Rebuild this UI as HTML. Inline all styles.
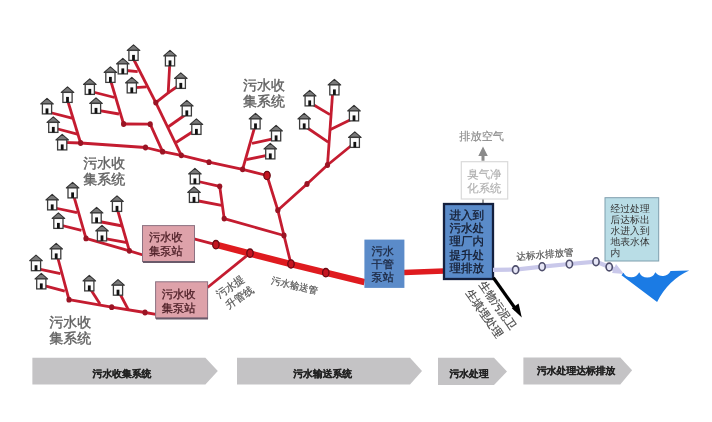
<!DOCTYPE html>
<html><head><meta charset="utf-8"><style>
html,body{margin:0;padding:0;background:#fff;width:712px;height:422px;overflow:hidden}
svg{display:block;filter:blur(0.35px)}
text{font-family:"Liberation Sans",sans-serif;text-rendering:geometricPrecision}
</style></head><body>
<svg width="712" height="422" viewBox="0 0 712 422">
<defs><g id="h"><polygon points="0,1.3 -6.3,6.9 6.3,6.9" fill="#7a7a7a" stroke="#333" stroke-width="1.1" stroke-linejoin="round"/><rect x="-4.6" y="6.9" width="9.2" height="10" fill="#fcfcfc" stroke="#3c3c3c" stroke-width="1.3"/><rect x="-1.4" y="11.4" width="2.8" height="5.5" fill="#111"/></g></defs>
<polyline points="62,142.4 80.6,143 145.5,147.5 162.6,151.7 181.3,155.3 209,162.2 242.6,169.3 267,175.5" fill="none" stroke="#c41c30" stroke-width="2.8" stroke-linejoin="round"/>
<polyline points="80.6,143 67.5,100" fill="none" stroke="#c41c30" stroke-width="2.8" stroke-linejoin="round"/>
<polyline points="50,112.5 72.9,118.4" fill="none" stroke="#c41c30" stroke-width="2.8" stroke-linejoin="round"/>
<polyline points="56,128.5 78.2,134.4" fill="none" stroke="#c41c30" stroke-width="2.8" stroke-linejoin="round"/>
<polyline points="123.6,124 150.2,124.2 162.6,151.7" fill="none" stroke="#c41c30" stroke-width="2.8" stroke-linejoin="round"/>
<polyline points="123.6,124 110.5,80" fill="none" stroke="#c41c30" stroke-width="2.8" stroke-linejoin="round"/>
<polyline points="98,110.4 119,114" fill="none" stroke="#c41c30" stroke-width="2.8" stroke-linejoin="round"/>
<polyline points="93,92 114.6,97.5" fill="none" stroke="#c41c30" stroke-width="2.8" stroke-linejoin="round"/>
<polyline points="155.8,102.6 133.5,59" fill="none" stroke="#c41c30" stroke-width="2.8" stroke-linejoin="round"/>
<polyline points="126,70.5 137.7,71.7" fill="none" stroke="#c41c30" stroke-width="2.8" stroke-linejoin="round"/>
<polyline points="135,87.7 146.6,86.8" fill="none" stroke="#c41c30" stroke-width="2.8" stroke-linejoin="round"/>
<polyline points="155.8,102.6 168.2,92.9 169.8,63" fill="none" stroke="#c41c30" stroke-width="2.8" stroke-linejoin="round"/>
<polyline points="168.2,92.9 178,86" fill="none" stroke="#c41c30" stroke-width="2.8" stroke-linejoin="round"/>
<polyline points="155.8,102.6 181.3,155.3" fill="none" stroke="#c41c30" stroke-width="2.8" stroke-linejoin="round"/>
<polyline points="185,115 168,127" fill="none" stroke="#c41c30" stroke-width="2.8" stroke-linejoin="round"/>
<polyline points="193,131.5 176,142.5" fill="none" stroke="#c41c30" stroke-width="2.8" stroke-linejoin="round"/>
<polyline points="196,181 219.7,186.3 224.2,218.6 284,235.5 291,264" fill="none" stroke="#c41c30" stroke-width="2.8" stroke-linejoin="round"/>
<polyline points="196,200.5 221.5,205.3" fill="none" stroke="#c41c30" stroke-width="2.8" stroke-linejoin="round"/>
<polyline points="267,175.5 277.8,210.2 284,235.5" fill="none" stroke="#c41c30" stroke-width="2.8" stroke-linejoin="round"/>
<polyline points="277.8,210.2 307,184 327.5,165 352,145" fill="none" stroke="#c41c30" stroke-width="2.8" stroke-linejoin="round"/>
<polyline points="327.5,165 332.6,93" fill="none" stroke="#c41c30" stroke-width="2.8" stroke-linejoin="round"/>
<polyline points="313,104.5 330,114.6" fill="none" stroke="#c41c30" stroke-width="2.8" stroke-linejoin="round"/>
<polyline points="351,119.5 330,129.7" fill="none" stroke="#c41c30" stroke-width="2.8" stroke-linejoin="round"/>
<polyline points="306,127 328.2,142.2" fill="none" stroke="#c41c30" stroke-width="2.8" stroke-linejoin="round"/>
<polyline points="242.6,169.3 255,126" fill="none" stroke="#c41c30" stroke-width="2.8" stroke-linejoin="round"/>
<polyline points="273,138.8 252,143.4" fill="none" stroke="#c41c30" stroke-width="2.8" stroke-linejoin="round"/>
<polyline points="267,155.3 246.3,159.7" fill="none" stroke="#c41c30" stroke-width="2.8" stroke-linejoin="round"/>
<polyline points="73.5,195 86,238.4 129.4,250.8 143,255" fill="none" stroke="#c41c30" stroke-width="2.8" stroke-linejoin="round"/>
<polyline points="55,208 77,212.6" fill="none" stroke="#c41c30" stroke-width="2.8" stroke-linejoin="round"/>
<polyline points="60,225 81.5,230.4" fill="none" stroke="#c41c30" stroke-width="2.8" stroke-linejoin="round"/>
<polyline points="117,208 129.4,250.8" fill="none" stroke="#c41c30" stroke-width="2.8" stroke-linejoin="round"/>
<polyline points="99,221.5 122.5,226" fill="none" stroke="#c41c30" stroke-width="2.8" stroke-linejoin="round"/>
<polyline points="105,238.6 127,242.7" fill="none" stroke="#c41c30" stroke-width="2.8" stroke-linejoin="round"/>
<polyline points="194,238.8 215.9,244.7" fill="none" stroke="#c41c30" stroke-width="2.8" stroke-linejoin="round"/>
<polyline points="57.3,256 69,299.7 111.7,307.2 145,312.5 156,314.4" fill="none" stroke="#c41c30" stroke-width="2.8" stroke-linejoin="round"/>
<polyline points="38,268.8 60.5,273.7" fill="none" stroke="#c41c30" stroke-width="2.8" stroke-linejoin="round"/>
<polyline points="45,285.8 64.8,291.2" fill="none" stroke="#c41c30" stroke-width="2.8" stroke-linejoin="round"/>
<polyline points="90.4,289 100,304" fill="none" stroke="#c41c30" stroke-width="2.8" stroke-linejoin="round"/>
<polyline points="119,292 128.7,310.4" fill="none" stroke="#c41c30" stroke-width="2.8" stroke-linejoin="round"/>
<polyline points="207.5,287.5 250,253.2" fill="none" stroke="#c41c30" stroke-width="2.8" stroke-linejoin="round"/>
<polyline points="215.9,244.7 291,264.2 364.5,282.2" fill="none" stroke="#df1b1f" stroke-width="6.5"/>
<polyline points="404,272.4 444,271" fill="none" stroke="#df1b1f" stroke-width="5.5"/>
<ellipse cx="80.6" cy="143" rx="2.6" ry="2.9" fill="#9a1424"/>
<ellipse cx="145.5" cy="147.5" rx="2.6" ry="2.9" fill="#9a1424"/>
<ellipse cx="162.6" cy="151.7" rx="2.6" ry="2.9" fill="#9a1424"/>
<ellipse cx="181.3" cy="155.3" rx="2.6" ry="2.9" fill="#9a1424"/>
<ellipse cx="209" cy="162.2" rx="2.6" ry="2.9" fill="#9a1424"/>
<ellipse cx="242.6" cy="169.3" rx="2.6" ry="2.9" fill="#9a1424"/>
<ellipse cx="123.6" cy="124" rx="2.6" ry="2.9" fill="#9a1424"/>
<ellipse cx="150.2" cy="124.2" rx="2.6" ry="2.9" fill="#9a1424"/>
<ellipse cx="155.8" cy="102.6" rx="2.6" ry="2.9" fill="#9a1424"/>
<ellipse cx="219.7" cy="186.3" rx="2.6" ry="2.9" fill="#9a1424"/>
<ellipse cx="224.2" cy="218.6" rx="2.6" ry="2.9" fill="#9a1424"/>
<ellipse cx="284" cy="235.5" rx="2.6" ry="2.9" fill="#9a1424"/>
<ellipse cx="277.8" cy="210.2" rx="2.6" ry="2.9" fill="#9a1424"/>
<ellipse cx="307" cy="184" rx="2.6" ry="2.9" fill="#9a1424"/>
<ellipse cx="327.5" cy="165" rx="2.6" ry="2.9" fill="#9a1424"/>
<ellipse cx="86" cy="238.4" rx="2.6" ry="2.9" fill="#9a1424"/>
<ellipse cx="129.4" cy="250.8" rx="2.6" ry="2.9" fill="#9a1424"/>
<ellipse cx="69" cy="299.7" rx="2.6" ry="2.9" fill="#9a1424"/>
<ellipse cx="111.7" cy="307.2" rx="2.6" ry="2.9" fill="#9a1424"/>
<ellipse cx="145" cy="312.5" rx="2.6" ry="2.9" fill="#9a1424"/>
<ellipse cx="215.9" cy="244.7" rx="3.2" ry="4.2" fill="#c41420" stroke="#6a0a14" stroke-width="1.3"/>
<ellipse cx="250" cy="253.2" rx="3.2" ry="4.2" fill="#c41420" stroke="#6a0a14" stroke-width="1.3"/>
<ellipse cx="291" cy="264" rx="3.2" ry="4.2" fill="#c41420" stroke="#6a0a14" stroke-width="1.3"/>
<ellipse cx="325.8" cy="272.7" rx="3.2" ry="4.2" fill="#c41420" stroke="#6a0a14" stroke-width="1.3"/>
<ellipse cx="267" cy="175.5" rx="3.2" ry="4.2" fill="#c41420" stroke="#6a0a14" stroke-width="1.3"/>
<use href="#h" x="47" y="97"/>
<use href="#h" x="67.5" y="85.5"/>
<use href="#h" x="53.3" y="115.5"/>
<use href="#h" x="62.2" y="133"/>
<use href="#h" x="96" y="96.5"/>
<use href="#h" x="89.8" y="77.5"/>
<use href="#h" x="110.4" y="65.5"/>
<use href="#h" x="122.8" y="57"/>
<use href="#h" x="133.5" y="43.5"/>
<use href="#h" x="131.8" y="76"/>
<use href="#h" x="170" y="49"/>
<use href="#h" x="180.8" y="71.5"/>
<use href="#h" x="186.8" y="99"/>
<use href="#h" x="196.4" y="117.5"/>
<use href="#h" x="194.9" y="167"/>
<use href="#h" x="194" y="185.5"/>
<use href="#h" x="255.5" y="112"/>
<use href="#h" x="276.1" y="124"/>
<use href="#h" x="270.3" y="142"/>
<use href="#h" x="334.4" y="78"/>
<use href="#h" x="309.7" y="89"/>
<use href="#h" x="304.2" y="112"/>
<use href="#h" x="354" y="104"/>
<use href="#h" x="354.8" y="130.5"/>
<use href="#h" x="72.6" y="181"/>
<use href="#h" x="52.2" y="193"/>
<use href="#h" x="58.4" y="211.5"/>
<use href="#h" x="96.6" y="206"/>
<use href="#h" x="117" y="194.5"/>
<use href="#h" x="102" y="224"/>
<use href="#h" x="56.2" y="242"/>
<use href="#h" x="36" y="253.8"/>
<use href="#h" x="41.3" y="272"/>
<use href="#h" x="89.3" y="274"/>
<use href="#h" x="118" y="278.3"/>
<!-- labels -->
<g fill="#606060" stroke="#606060" stroke-width="0.35" font-size="14">
<text x="83.2" y="168">污水收</text><text x="83.2" y="183.8">集系统</text>
<text x="243" y="90.4">污水收</text><text x="243" y="106.4">集系统</text>
<text x="49.2" y="326.6">污水收</text><text x="49.2" y="342.6">集系统</text>
</g>
<!-- pink boxes -->
<g>
<rect x="142.5" y="225.6" width="52" height="36" fill="#dea2aa" stroke="#8c7282" stroke-width="1"/>
<line x1="143" y1="262" x2="195" y2="262" stroke="#6a5a6a" stroke-width="2"/>
<rect x="155.6" y="281.8" width="52" height="36.4" fill="#dea2aa" stroke="#8c7282" stroke-width="1"/>
<line x1="156" y1="318.5" x2="208" y2="318.5" stroke="#6a5a6a" stroke-width="2"/>
<g fill="#4e2028" stroke="#4e2028" stroke-width="0.3" font-size="11.3">
<text x="149" y="241.3">污水收</text><text x="149" y="255">集泵站</text>
<text x="161.7" y="297.8">污水收</text><text x="161.7" y="312">集泵站</text>
</g>
</g>
<!-- rotated labels -->
<g fill="#555" stroke="#555" stroke-width="0.2" font-size="10.5">
<text transform="translate(219.2,298.6) rotate(-34)">污水提</text>
<text transform="translate(228.6,309.2) rotate(-34)">升管线</text>
</g>
<g fill="#555" stroke="#555" stroke-width="0.2" font-size="9.5"><text transform="translate(270.8,283.2) rotate(13.5)">污水输送管</text></g>
<!-- blue box 1 -->
<rect x="364.4" y="239.6" width="40" height="48.3" fill="#5b8bc9"/>
<g fill="#1e2a44" stroke="#1e2a44" stroke-width="0.3" font-size="11.2"><text x="371.6" y="254.7">污水</text><text x="371.6" y="267.8">干管</text><text x="371.6" y="281">泵站</text></g>
<!-- air -->
<g fill="#8a8a8a" stroke="#8a8a8a" stroke-width="0.15" font-size="11.2"><text x="459.3" y="140.2">排放空气</text></g>
<line x1="483" y1="199" x2="483" y2="203.5" stroke="#999" stroke-width="2"/>
<polygon points="483,146.5 478.3,156 481.5,156 481.5,160.7 484.5,160.7 484.5,156 487.8,156" fill="#8a8a8a"/>
<rect x="461.3" y="161.7" width="46.4" height="37.3" fill="#fff" stroke="#dadada" stroke-width="1.2"/>
<g fill="#b0b0b0" stroke="#b0b0b0" stroke-width="0.15" font-size="11.4"><text x="467.3" y="177.5">臭气净</text><text x="467.3" y="191.7">化系统</text></g>
<!-- blue box 2 -->
<rect x="444" y="204" width="49" height="75" fill="#5a8bc9" stroke="#14203e" stroke-width="2.3"/>
<g fill="#141c30" stroke="#141c30" stroke-width="0.3" font-size="11.5"><text x="449.6" y="218.6">进入到</text><text x="449.6" y="231.9">污水处</text><text x="449.6" y="245.2">理厂内</text><text x="449.6" y="258.5">提升处</text><text x="449.6" y="271.8">理排放</text></g>
<!-- black arrow -->
<line x1="493.4" y1="277.8" x2="516" y2="309.5" stroke="#000" stroke-width="3.2"/>
<polygon points="521.8,317.6 511.8,308.2 518.6,303.4" fill="#000"/>
<g fill="#4a4a4a" stroke="#4a4a4a" stroke-width="0.2" font-size="11.2">
<text transform="translate(478.6,284.6) rotate(55)">生物污泥卫</text>
<text transform="translate(465.2,292.8) rotate(55)">生填埋处理</text>
</g>
<!-- discharge pipe -->
<polyline points="493,269.8 515.6,269.6 542.1,266.6 569.4,264 596,261.6 609.2,267 617,270.5" fill="none" stroke="#c9c8ea" stroke-width="4.2"/>
<polygon points="624,274 612,273 616,264" fill="#c9c8ea"/>
<g fill="#e6e6f6" stroke="#4e4e6c" stroke-width="1.6">
<ellipse cx="515.6" cy="269.8" rx="3.1" ry="3.9"/><ellipse cx="542.1" cy="266.7" rx="3.1" ry="3.9"/><ellipse cx="569.4" cy="264.1" rx="3.1" ry="3.9"/><ellipse cx="596" cy="261.7" rx="3.1" ry="3.9"/><ellipse cx="609.2" cy="267" rx="3.1" ry="3.9"/>
</g>
<g fill="#555" stroke="#555" stroke-width="0.2" font-size="9.5"><text transform="translate(516.8,260) rotate(-4.8)">达标水排放管</text></g>
<!-- light blue box -->
<rect x="605" y="197.7" width="53.7" height="63.3" fill="#b9dde6" stroke="#7f9fae" stroke-width="1"/>
<g fill="#333" font-size="9.8"><text x="610.5" y="211.6">经过处理</text><text x="610.5" y="222.7">后达标出</text><text x="610.5" y="233.8">水进入到</text><text x="610.5" y="244.9">地表水体</text><text x="610.5" y="256">内</text></g>
<!-- water -->
<path d="M621.5,275.2 L623.4,272.7 A8.9,8.9 0 0 0 639.2,272.3 A8.9,8.9 0 0 0 655.4,272.3 A8.9,8.9 0 0 0 670.6,271 L689.2,270.4 Q668,280 657.1,301.9 Z" fill="#1b7be4"/>
<!-- bottom arrows -->
<g fill="#c4c3c5">
<polygon points="32.4,357.8 205.4,357.8 217.8,371 205.4,384.5 32.4,384.5"/>
<polygon points="237,357.8 410,357.8 422,371 410,384.5 237,384.5"/>
<polygon points="438,357.8 494,357.8 507,371.4 494,385 438,385"/>
<polygon points="523.4,357.6 620.3,357.6 632.1,370.2 620.3,384.6 523.4,384.6"/>
</g>
<g fill="#222" stroke="#222" stroke-width="0.2" font-size="9.8" font-weight="bold">
<text x="92.6" y="377">污水收集系统</text>
<text x="293.3" y="377">污水输送系统</text>
<text x="449.5" y="376.5">污水处理</text>
<text x="537" y="373.8">污水处理达标排放</text>
</g>
</svg>
</body></html>
